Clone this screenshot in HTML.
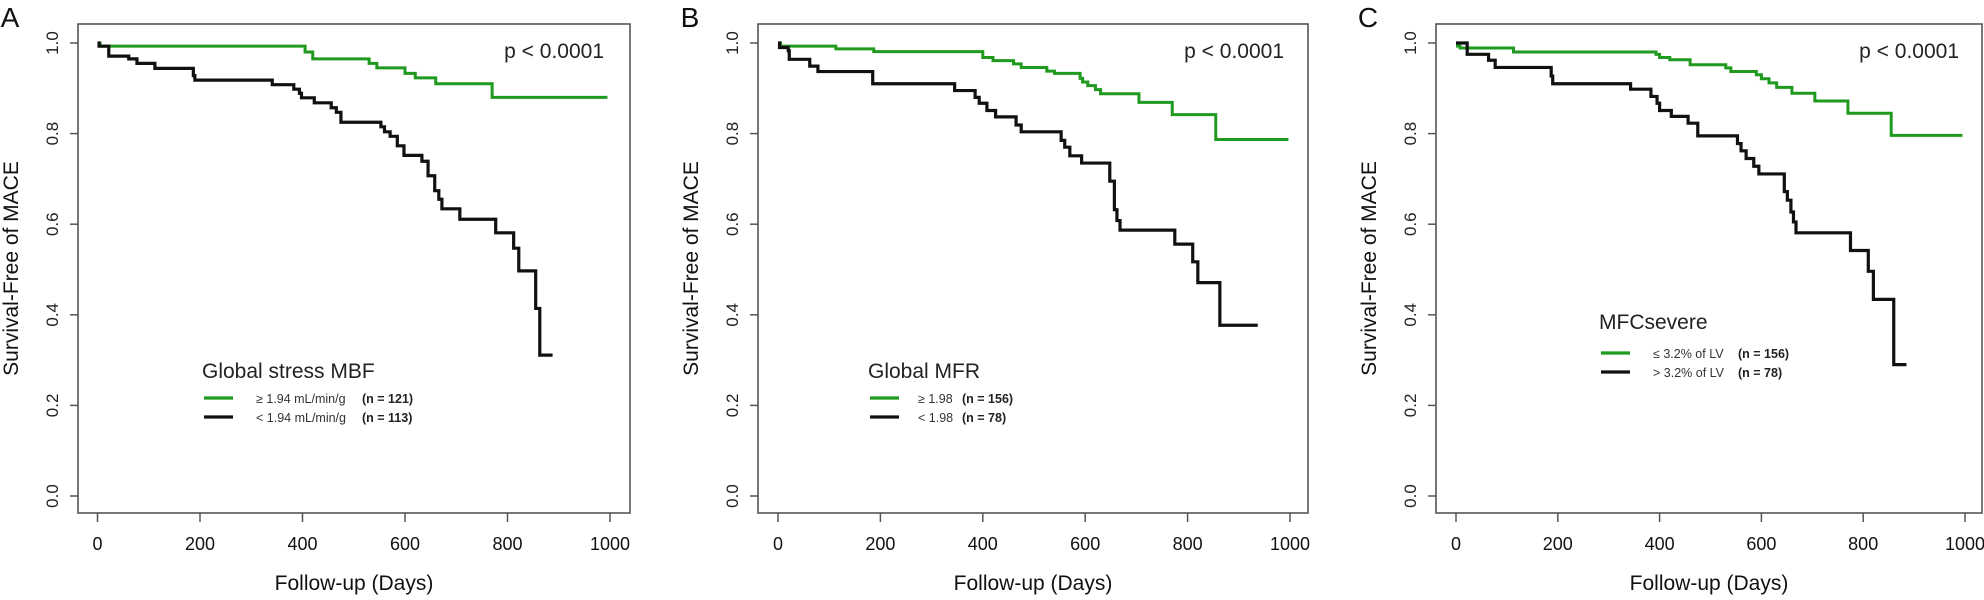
<!DOCTYPE html>
<html><head><meta charset="utf-8"><style>
html,body{margin:0;padding:0;background:#fff;}
svg{display:block;font-family:"Liberation Sans",Arial,sans-serif;}
</style></head><body>
<svg id="chart" width="1984" height="600" viewBox="0 0 1984 600" xmlns="http://www.w3.org/2000/svg"></svg>
<script>
// ---- data ----
const xTicks = [0, 200, 400, 600, 800, 1000];
const yTicks = [0.0, 0.2, 0.4, 0.6, 0.8, 1.0];
const yTickLabels = ["0.0", "0.2", "0.4", "0.6", "0.8", "1.0"];
const panelLetters = ["A", "B", "C"];
const legendTitles = ["Global stress MBF", "Global MFR", "MFCsevere"];
const legendHighLabels = ["\u2265 1.94 mL/min/g", "\u2265 1.98", "\u2264 3.2% of LV"];
const legendLowLabels = ["< 1.94 mL/min/g", "< 1.98", "> 3.2% of LV"];
const legendHighN = ["(n = 121)", "(n = 156)", "(n = 156)"];
const legendLowN = ["(n = 113)", "(n = 78)", "(n = 78)"];
const pValueText = "p < 0.0001";

// Panel A
const aGreenDays = [0, 5, 405, 420, 530, 545, 600, 620, 660, 770, 995];
const aGreenSurv = [1.0, 0.993, 0.98, 0.965, 0.955, 0.945, 0.933, 0.923, 0.91, 0.88, 0.88];
const aBlackDays = [0, 3, 22, 61, 77, 112, 187, 190, 341, 383, 394, 398, 423, 456, 466, 475, 553, 560, 571, 585, 598, 633, 645, 658, 666, 672, 707, 777, 812, 822, 855, 863, 888];
const aBlackSurv = [1.0, 0.993, 0.971, 0.965, 0.955, 0.944, 0.928, 0.918, 0.908, 0.898, 0.889, 0.879, 0.868, 0.857, 0.847, 0.825, 0.815, 0.804, 0.794, 0.773, 0.752, 0.739, 0.707, 0.674, 0.655, 0.634, 0.611, 0.581, 0.547, 0.497, 0.414, 0.311, 0.311];
// Panel B
const bGreenDays = [0, 5, 113, 187, 400, 420, 460, 475, 525, 540, 590, 595, 605, 620, 630, 705, 770, 855, 997];
const bGreenSurv = [1.0, 0.993, 0.987, 0.981, 0.968, 0.961, 0.954, 0.946, 0.938, 0.933, 0.922, 0.914, 0.906, 0.897, 0.888, 0.869, 0.842, 0.787, 0.787];
const bBlackDays = [0, 3, 20, 22, 62, 78, 185, 345, 385, 393, 408, 425, 465, 475, 553, 560, 570, 593, 648, 657, 662, 668, 775, 810, 820, 863, 937];
const bBlackSurv = [1.0, 0.99, 0.983, 0.964, 0.949, 0.937, 0.91, 0.895, 0.88, 0.867, 0.851, 0.837, 0.819, 0.804, 0.785, 0.77, 0.751, 0.735, 0.695, 0.632, 0.608, 0.587, 0.556, 0.517, 0.471, 0.377, 0.377];
// Panel C
const cGreenDays = [0, 3, 8, 113, 393, 400, 420, 460, 530, 540, 590, 600, 615, 630, 660, 705, 770, 855, 995];
const cGreenSurv = [1.0, 0.993, 0.989, 0.98, 0.975, 0.968, 0.963, 0.952, 0.945, 0.937, 0.93, 0.921, 0.912, 0.902, 0.889, 0.872, 0.845, 0.796, 0.796];
const cBlackDays = [0, 22, 64, 77, 187, 190, 343, 383, 395, 400, 423, 456, 475, 553, 560, 570, 585, 595, 645, 651, 658, 663, 668, 775, 810, 820, 860, 885];
const cBlackSurv = [1.0, 0.975, 0.962, 0.946, 0.927, 0.91, 0.898, 0.882, 0.867, 0.851, 0.838, 0.823, 0.795, 0.778, 0.762, 0.745, 0.728, 0.711, 0.672, 0.653, 0.627, 0.605, 0.581, 0.542, 0.496, 0.434, 0.29, 0.29];

const greenDaysAll = [aGreenDays, bGreenDays, cGreenDays];
const greenSurvAll = [aGreenSurv, bGreenSurv, cGreenSurv];
const blackDaysAll = [aBlackDays, bBlackDays, cBlackDays];
const blackSurvAll = [aBlackSurv, bBlackSurv, cBlackSurv];

// ---- layout (pixels) ----
const layout = [
  {L: 78, R: 630, x0: 97.5, x1: 610},
  {L: 758, R: 1308, x0: 778, x1: 1290},
  {L: 1436, R: 1982, x0: 1456, x1: 1965}
];
const boxTop = 24, boxBottom = 513, yTop = 43, yBottom = 496;
const GREEN = "#1f9a1f";
const NS = "http://www.w3.org/2000/svg";
const svg = document.getElementById("chart");

function mk(tag, attrs, parent) {
  const e = document.createElementNS(NS, tag);
  for (const k in attrs) e.setAttribute(k, attrs[k]);
  (parent || svg).appendChild(e);
  return e;
}
function yScale(v) { return yBottom - v * (yBottom - yTop); }

layout.forEach((p, i) => {
  const xs = d => p.x0 + d / 1000 * (p.x1 - p.x0);
  const g = mk("g", {});
  
  

  const letter = mk("text", {x: p.L - 68, y: 27, "font-size": 28, fill: "#111", "text-anchor": "middle"}, g);
  letter.textContent = panelLetters[i];
  
  

  const box = mk("rect", {x: p.L, y: boxTop, width: p.R - p.L, height: boxBottom - boxTop, fill: "none", stroke: "#555", "stroke-width": 1.6}, g);
  
  

  yTicks.forEach((v, k) => {
    const y = yScale(v);
    const t = mk("line", {x1: p.L - 8, x2: p.L, y1: y, y2: y, stroke: "#555", "stroke-width": 1.5}, g);
    
    
    const lx = p.L - 20;
    const lab = mk("text", {x: lx, y: y, "font-size": 17, fill: "#222", "text-anchor": "middle", transform: `rotate(-90 ${lx} ${y})`}, g);
    lab.textContent = yTickLabels[k];
    
    
  });
  xTicks.forEach(d => {
    const x = xs(d);
    const t = mk("line", {x1: x, x2: x, y1: boxBottom, y2: boxBottom + 9, stroke: "#555", "stroke-width": 1.5}, g);
    
    
    const lab = mk("text", {x: x, y: 550, "font-size": 18, fill: "#111", "text-anchor": "middle"}, g);
    lab.textContent = String(d);
    
    
  });
  const xt = mk("text", {x: (p.L + p.R) / 2, y: 590, "font-size": 21, fill: "#111", "text-anchor": "middle"}, g);
  xt.textContent = "Follow-up (Days)";
  
  
  const ytx = p.L - 60, yty = (boxTop + boxBottom) / 2;
  const yt = mk("text", {x: ytx, y: yty, "font-size": 21, fill: "#111", "text-anchor": "middle", transform: `rotate(-90 ${ytx} ${yty})`}, g);
  yt.textContent = "Survival-Free of MACE";
  
  

  const pv = mk("text", {x: p.x1 - 6, y: 58, "font-size": 21, fill: "#222", "text-anchor": "end"}, g);
  pv.textContent = pValueText;
  
  

  function stepPath(days, surv) {
    let d = `M${xs(days[0])},${yScale(surv[0])}`;
    for (let k = 1; k < days.length; k++) {
      d += ` H${xs(days[k])} V${yScale(surv[k])}`;
    }
    return d;
  }
  const gl = mk("path", {d: stepPath(greenDaysAll[i], greenSurvAll[i]), fill: "none", stroke: GREEN, "stroke-width": 3}, g);
  
  
  const bl = mk("path", {d: stepPath(blackDaysAll[i], blackSurvAll[i]), fill: "none", stroke: "#111", "stroke-width": 3.2}, g);
  
  

  const legX = [202, 868, 1599][i];
  const titleY = [378, 378, 329][i];
  const row1 = [398, 398, 353][i];
  const row2 = [417, 417, 372][i];
  const textX = [256, 918, 1653][i];
  const nX = [362, 962, 1738][i];
  const lg = mk("g", {}, g);
  
  
  const lt = mk("text", {x: legX, y: titleY, "font-size": 21, fill: "#222"}, lg);
  lt.textContent = legendTitles[i];
  
  
  [[row1, GREEN, legendHighLabels[i], legendHighN[i], 'legend-entry-high'], [row2, "#111", legendLowLabels[i], legendLowN[i], 'legend-entry-low']].forEach(r => {
    const eg = mk("g", {}, lg);
    
    
    const ln = mk("line", {x1: legX + 2, x2: legX + 31, y1: r[0], y2: r[0], stroke: r[1], "stroke-width": 3.2}, eg);
    
    
    const tx = mk("text", {x: textX, y: r[0] + 5, "font-size": 12.5, fill: "#333"}, eg);
    tx.textContent = r[2];
    
    
    const nn = mk("text", {x: nX, y: r[0] + 5, "font-size": 12.5, "font-weight": "bold", fill: "#222"}, eg);
    nn.textContent = r[3];
    
    
  });
});
</script>
</body></html>
